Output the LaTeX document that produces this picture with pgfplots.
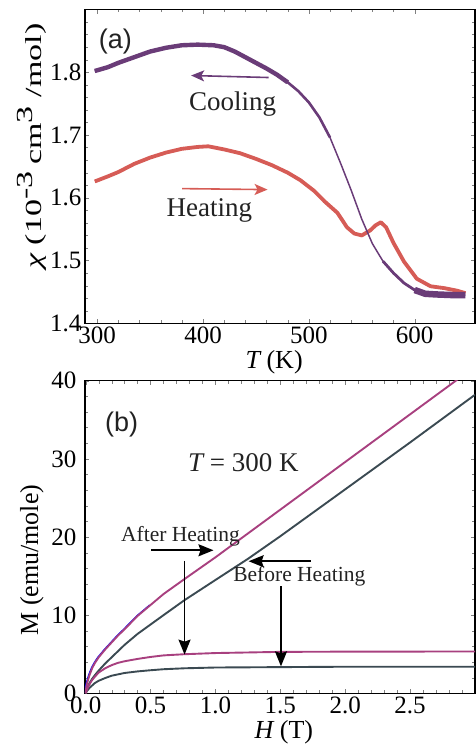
\documentclass[border=0pt]{standalone}
\usepackage{fontspec}
\setmainfont{Liberation Serif}
\newfontfamily\arialfont{Liberation Sans}
\usepackage{graphicx}
\usepackage{pgfplots}
\pgfplotsset{compat=1.18}
\usetikzlibrary{arrows.meta}
\definecolor{coolc}{HTML}{6A3C78}
\definecolor{heatc}{HTML}{D65C56}
\definecolor{magc}{HTML}{A8407F}
\definecolor{darkc}{HTML}{3B4A52}
\definecolor{txt}{HTML}{222222}

\pgfplotstableread{
T chi
297.7 1.802
310 1.808
320 1.815
335 1.824
350 1.833
365 1.839
380 1.843
395 1.844
410 1.843
420 1.840
430 1.833
440 1.824
450 1.815
460 1.806
470 1.796
480 1.784
490 1.770
500 1.752
510 1.728
520 1.696
530 1.655
540 1.612
550 1.566
560 1.527
570 1.499
580 1.480
590 1.464
600 1.453
610 1.447
620 1.446
635 1.445
648 1.445
}\cooling

\pgfplotstableread{
T chi
297.7 1.626
310 1.634
320 1.641
335 1.654
350 1.664
365 1.672
380 1.678
395 1.681
405 1.682
420 1.677
435 1.671
450 1.662
465 1.652
480 1.640
492 1.628
505 1.611
515 1.594
527 1.576
536 1.553
543 1.543
550 1.540
558 1.548
563 1.556
568 1.561
573 1.553
580 1.528
590 1.498
602 1.471
615 1.459
628 1.456
640 1.452
648 1.448
}\heating

\pgfplotstableread{
H M
0 0
0.005 0.8
0.01 1.2
0.02 1.8
0.03 2.35
0.05 3.2
0.07 3.85
0.1 4.6
0.125 5.1
0.15 5.6
0.2 6.5
0.25 7.4
0.3 8.2
0.4 9.9
0.5 11.3
0.6 12.7
0.76 14.6
1.0 17.4
1.5 23.5
2.0 29.6
2.5 35.7
3.0 41.8
}\aftertot

\pgfplotstableread{
H M
0 0
0.01 0.55
0.02 0.95
0.035 1.45
0.05 1.85
0.075 2.4
0.1 2.9
0.15 3.8
0.2 4.6
0.25 5.4
0.3 6.2
0.4 7.6
0.5 8.8
0.6 10.0
0.76 11.9
1.0 14.5
1.25 17.2
1.5 20.1
2.0 26.1
2.5 32.1
3.0 38.2
}\beforetot

\pgfplotstableread{
H M
0 0
0.01 0.45
0.02 0.85
0.035 1.3
0.05 1.7
0.07 2.1
0.1 2.65
0.15 3.2
0.2 3.6
0.25 3.9
0.3 4.1
0.4 4.4
0.5 4.65
0.6 4.85
0.76 5.0
1.0 5.15
1.5 5.3
2.0 5.33
3.0 5.35
}\aftersat

\pgfplotstableread{
H M
0 0
0.01 0.3
0.02 0.5
0.03 0.7
0.05 1.0
0.07 1.3
0.1 1.6
0.15 1.95
0.2 2.25
0.3 2.6
0.4 2.8
0.5 2.95
0.6 3.08
0.76 3.2
1.0 3.3
1.5 3.35
2.0 3.4
3.0 3.4
}\beforesat

\pgfplotsset{
  every axis/.append style={
    scale only axis, width=390pt,
    axis line style={line width=1.2pt},
    xtick pos=both, ytick pos=both,
    tick label style={font=\fontsize{25}{28}\selectfont},
    /pgf/number format/assume math mode=true,
    label style={font=\fontsize{26}{30}\selectfont},
  },
}

\begin{document}
\begin{tikzpicture}
% ---------------- panel (a)
\begin{axis}[anchor=south west, at={(85pt,422.7pt)}, height=313.8pt,
  tick align=inside,
  xmin=288.5, xmax=657, ymin=1.4, ymax=1.9,
  xtick={300,400,500,600}, minor x tick num=4,
  ytick={1.4,1.5,1.6,1.7,1.8,1.9}, minor y tick num=4,
  yticklabels={1.4,1.5,1.6,1.7,1.8,},
  xlabel={{\itshape T} (K)},
  xlabel style={at={(axis description cs:0.485,0)}, anchor=base, yshift=-45pt},
]
\addplot[heatc, line width=3.8pt, line join=round] table[x=T,y=chi] {\heating};
\addplot[coolc, line width=1.5pt, line join=round] table[x=T,y=chi] {\cooling};
\addplot[coolc, line width=2.6pt, line join=round, restrict x to domain=460:522] table[x=T,y=chi] {\cooling};
\addplot[coolc, line width=4.4pt, line join=round, restrict x to domain=290:482] table[x=T,y=chi] {\cooling};
\addplot[coolc, line width=2.8pt, line join=round, restrict x to domain=565:600] table[x=T,y=chi] {\cooling};
\addplot[coolc, line width=6.5pt, line join=round, restrict x to domain=595:650] table[x=T,y=chi] {\cooling};
\draw[coolc, line width=1.6pt, -{Stealth[length=13pt,width=11pt,inset=3pt]}] (axis cs:462,1.7916) -- (axis cs:388.8,1.7948);
\draw[heatc, line width=1.6pt, -{Stealth[length=13pt,width=11pt,inset=3pt]}] (axis cs:380.3,1.6146) -- (axis cs:461,1.6130);
\node[anchor=base, font=\fontsize{27}{30}\selectfont, text=txt] at (axis cs:428,1.739) {Cooling};
\node[anchor=base, font=\fontsize{27}{30}\selectfont, text=txt] at (axis cs:406,1.5695) {Heating};
\node[anchor=base, font=\arialfont\fontsize{27}{30}\selectfont, text=txt] at (axis cs:317.3,1.838) {(a)};
\end{axis}
\node[rotate=90, anchor=center, font=\fontsize{23}{30}\selectfont, inner sep=0pt] at (32pt,600pt) {\resizebox{245pt}{\height}{{\itshape χ} (10$^{\textrm{-3}}$\,cm$^{\textrm{3}}$ /mol)}};
% ---------------- panel (b)
\begin{axis}[anchor=south west, at={(85pt,52.7pt)}, height=312.6pt,
  tick align=inside,
  xmin=-0.005, xmax=3.0, ymin=0, ymax=40,
  xtick={0,0.5,...,3.0}, minor x tick num=4,
  xticklabels={0.0,0.5,1.0,1.5,2.0,2.5,},
  ytick={0,10,20,30,40}, minor y tick num=4,
  yticklabel style={xshift=-5pt},
  xlabel={{\itshape H} (T)},
  xlabel style={at={(axis description cs:0.51,0)}, anchor=base, yshift=-45.5pt},
  ylabel={M (emu/mole)},
  ylabel style={at={(axis description cs:-0.136,0.426)}, anchor=center},
]
\addplot[blue, line width=1.2pt, xshift=-0.9pt, restrict x to domain=0:0.55] table[x=H,y=M] {\aftertot};
\addplot[darkc, line width=1.9pt] table[x=H,y=M] {\beforesat};
\addplot[darkc, line width=1.9pt] table[x=H,y=M] {\beforetot};
\addplot[magc, line width=1.9pt] table[x=H,y=M] {\aftersat};
\addplot[magc, line width=1.9pt] table[x=H,y=M] {\aftertot};
\draw[black, line width=1.6pt, -{Stealth[length=15pt,width=12pt,inset=2pt]}] (axis cs:0.505,18.3) -- (axis cs:0.985,18.3);
\draw[black, line width=1.6pt, -{Stealth[length=15pt,width=12pt,inset=2pt]}] (axis cs:0.762,16.96) -- (axis cs:0.762,4.95);
\draw[black, line width=1.6pt, -{Stealth[length=15pt,width=12pt,inset=2pt]}] (axis cs:1.736,16.9) -- (axis cs:1.256,16.9);
\draw[black, line width=1.6pt, -{Stealth[length=15pt,width=12pt,inset=2pt]}] (axis cs:1.505,13.67) -- (axis cs:1.505,3.45);
\node[anchor=base, font=\fontsize{21.5}{24}\selectfont, text=txt] at (axis cs:0.731,19.44) {After Heating};
\node[anchor=base, font=\fontsize{21.5}{24}\selectfont, text=txt] at (axis cs:1.646,14.3) {Before Heating};
\node[anchor=base, font=\fontsize{27}{30}\selectfont, text=txt] at (axis cs:1.215,28.4) {{\itshape T} = 300 K};
\node[anchor=base, font=\arialfont\fontsize{27}{30}\selectfont, text=txt] at (axis cs:0.277,33.5) {(b)};
\end{axis}
\pgfresetboundingbox
\path[use as bounding box] (0pt,0pt) rectangle (475pt,746pt);
\end{tikzpicture}
\end{document}
